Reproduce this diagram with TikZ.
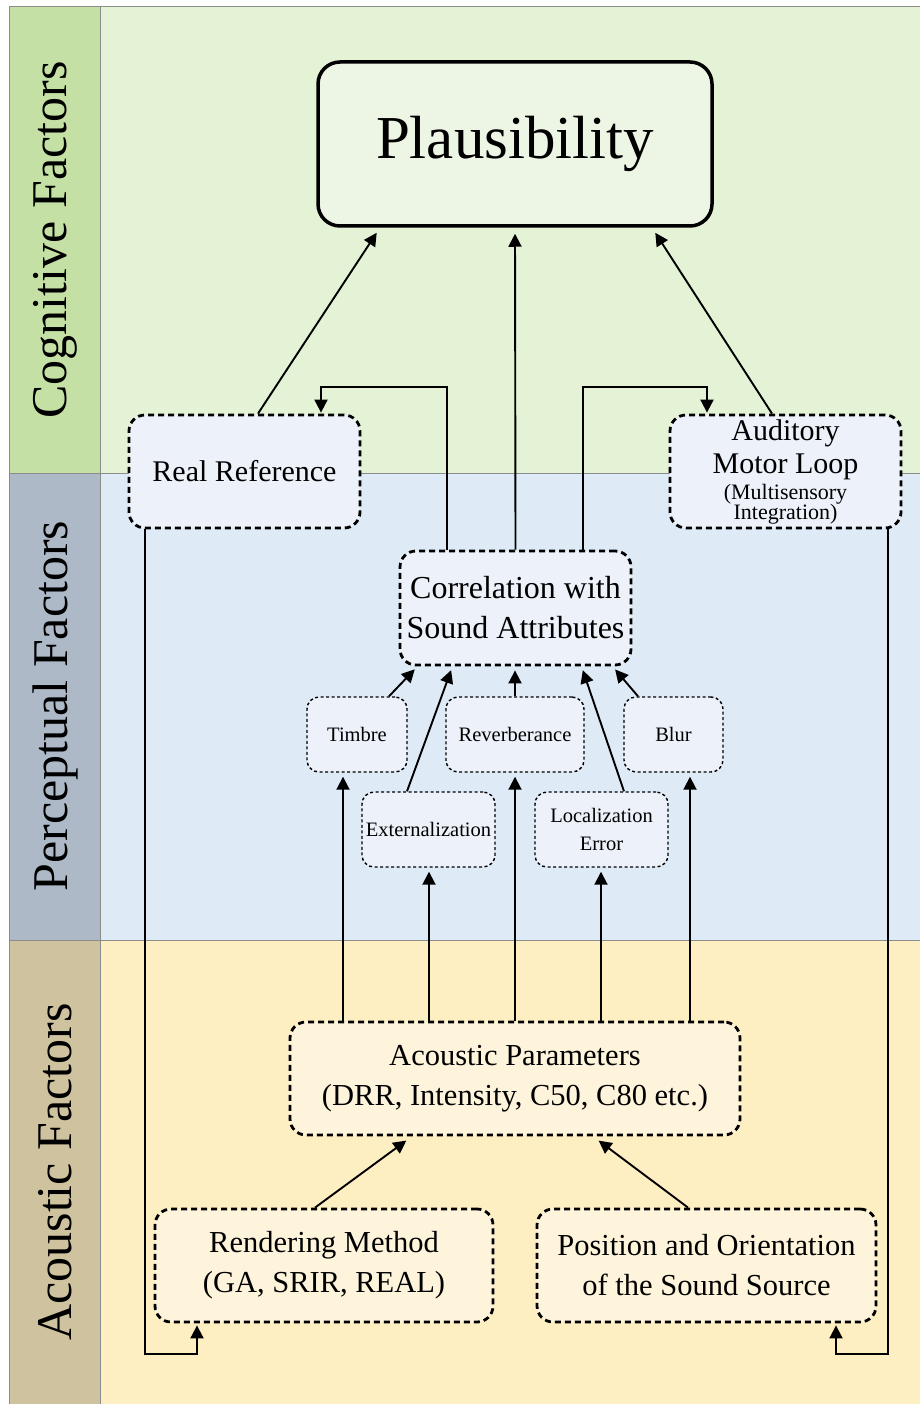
\documentclass[tikz,border=0pt]{standalone}
\usepackage{fontspec}
\setmainfont{Liberation Serif}
\usetikzlibrary{arrows.meta,calc}

\definecolor{coglab}{HTML}{C5E0A4}
\definecolor{cogbg}{HTML}{E4F2D6}
\definecolor{cogfill}{HTML}{EDF5E5}
\definecolor{perlab}{HTML}{ADB9C6}
\definecolor{perbg}{HTML}{DEEBF7}
\definecolor{perfill}{HTML}{EDF2FA}
\definecolor{acolab}{HTML}{CFC39F}
\definecolor{acobg}{HTML}{FEEFC2}
\definecolor{acofill}{HTML}{FEF4DC}
\definecolor{bandline}{HTML}{8C8C8C}

\newcommand\fsz[2]{\fontsize{#1}{#2}\selectfont}

\tikzset{
  band/.style={draw=bandline, line width=0.8pt},
  bandlabel/.style={rotate=90, font=\fsz{50}{60}},
  mainbox/.style={draw, line width=3.5pt, rounded corners=22pt, fill=cogfill,
    inner sep=0pt, align=center},
  bigbox/.style={draw, line width=2.8pt, dash pattern=on 6pt off 4pt,
    rounded corners=16pt, inner sep=0pt, align=center},
  smallbox/.style={draw, line width=1.4pt, dash pattern=on 3pt off 2.5pt,
    rounded corners=12pt, fill=perfill, inner sep=0pt, align=center,
    minimum height=75pt, font=\fsz{20.5}{28}},
  arr/.style={line width=1.9pt, -{Triangle[length=13pt,width=13pt]}},
}

\begin{document}
\begin{tikzpicture}[x=1pt, y=-1pt]
\useasboundingbox (0,0) rectangle (919,1404);

% background bands
\fill[white] (0,0) rectangle (919,1404);
\filldraw[band, fill=coglab] (9,6) rectangle (100,473);
\filldraw[band, fill=cogbg] (100,6) rectangle (930,473);
\filldraw[band, fill=perlab] (9,473) rectangle (100,940);
\filldraw[band, fill=perbg] (100,473) rectangle (930,940);
\filldraw[band, fill=acolab] (9,940) rectangle (100,1420);
\filldraw[band, fill=acobg] (100,940) rectangle (930,1420);

\node[bandlabel] (lcog) at (55,240) {Cognitive Factors};
\node[bandlabel] (lper) at (55,706) {Perceptual Factors};
\node[bandlabel] (laco) at (55,1172) {Acoustic Factors};

% nodes
\node[mainbox, minimum width=394pt, minimum height=164pt, font=\fsz{61}{70}]
  (plaus) at (515,144) {Plausibility};

\node[bigbox, fill=perfill, minimum width=231pt, minimum height=113pt, font=\fsz{30}{36}]
  (realref) at (244.5,471.5) {Real Reference};
\node[bigbox, fill=perfill, minimum width=231pt, minimum height=113pt, font=\fsz{30}{33}]
  (aml) at (785.5,471.5) {Auditory\\Motor Loop\\[-7pt]\fsz{22}{22}(Multisensory\\[-13pt]\fsz{22}{22}Integration)};

\node[bigbox, fill=perfill, minimum width=231pt, minimum height=114pt, font=\fsz{32}{40}]
  (corr) at (515.5,608) {Correlation with\\Sound Attributes};

\node[smallbox, minimum width=100pt] (timbre) at (357,734.5) {Timbre};
\node[smallbox, minimum width=138pt] (reverb) at (515,734.5) {Reverberance};
\node[smallbox, minimum width=99pt]  (blur)   at (673.5,734.5) {Blur};
\node[smallbox, minimum width=133pt] (ext)    at (428.5,829.5) {Externalization};
\node[smallbox, minimum width=133pt] (loc)    at (601.5,829.5) {Localization\\Error};

\node[bigbox, fill=acofill, minimum width=450pt, minimum height=113pt, font=\fsz{30.5}{40}]
  (acpar) at (515,1078.5) {Acoustic Parameters\\(DRR, Intensity, C50, C80 etc.)};
\node[bigbox, fill=acofill, minimum width=338pt, minimum height=113pt, font=\fsz{30.5}{40}]
  (render) at (324,1265.5) {Rendering Method\\(GA, SRIR, REAL)};
\node[bigbox, fill=acofill, minimum width=339pt, minimum height=113pt, font=\fsz{30.5}{40}]
  (posor) at (706.5,1265.5) {Position and Orientation\\of the Sound Source};

% cognitive level
\draw[arr, shorten >=6pt] ([xshift=13.5pt]realref.north) -- ([xshift=-135pt]plaus.south);
\draw[arr, shorten >=6pt] (corr.north) -- (plaus.south);
\draw[arr, shorten >=6pt] ([xshift=-13.5pt]aml.north) -- ([xshift=137pt]plaus.south);

\coordinate (jl) at (321,387);
\coordinate (jr) at (707,387);
\draw[arr, shorten >=1pt] ([xshift=-68.5pt]corr.north) |- (jl) -- (jl |- realref.north);
\draw[arr, shorten >=1pt] ([xshift=67.5pt]corr.north) |- (jr) -- (jr |- aml.north);

% perceptual level
\draw[arr, shorten >=4pt] ([xshift=32pt]timbre.north) -- ([xshift=-98pt]corr.south);
\draw[arr, shorten >=4pt] ([xshift=-21.5pt]ext.north) -- ([xshift=-63pt]corr.south);
\draw[arr, shorten >=4pt] (reverb.north) -- ([xshift=-0.5pt]corr.south);
\draw[arr, shorten >=4pt] ([xshift=22.5pt]loc.north) -- ([xshift=66pt]corr.south);
\draw[arr, shorten >=4pt] ([xshift=-35.5pt]blur.north) -- ([xshift=97pt]corr.south);

% acoustic parameters feed the sound attributes
\coordinate (a1) at ([xshift=-172pt]acpar.north);
\coordinate (a2) at ([xshift=-86pt]acpar.north);
\coordinate (a3) at (acpar.north);
\coordinate (a4) at ([xshift=86pt]acpar.north);
\coordinate (a5) at ([xshift=175pt]acpar.north);
\draw[arr, shorten >=4pt] (a1) -- (a1 |- timbre.south);
\draw[arr, shorten >=4pt] (a2) -- (a2 |- ext.south);
\draw[arr, shorten >=4pt] (a3) -- (a3 |- reverb.south);
\draw[arr, shorten >=4pt] (a4) -- (a4 |- loc.south);
\draw[arr, shorten >=4pt] (a5) -- (a5 |- blur.south);

% acoustic level
\draw[arr, shorten >=7pt] ([xshift=-9pt]render.north) -- ([xshift=-103pt]acpar.south);
\draw[arr, shorten >=7pt] ([xshift=-18.5pt]posor.north) -- ([xshift=78pt]acpar.south);

% feedback loops down to the acoustic level
\coordinate (rl) at ([xshift=-99.5pt]realref.south);
\coordinate (rr) at ([xshift=-127pt]render.south);
\coordinate (al) at ([xshift=102.5pt]aml.south);
\coordinate (pr) at ([xshift=129.5pt]posor.south);
\coordinate (rb) at (0,1354);
\draw[arr, shorten >=2pt] (rl) -- (rl |- rb) -| (rr);
\draw[arr, shorten >=2pt] (al) -- (al |- rb) -| (pr);
\end{tikzpicture}
\end{document}
